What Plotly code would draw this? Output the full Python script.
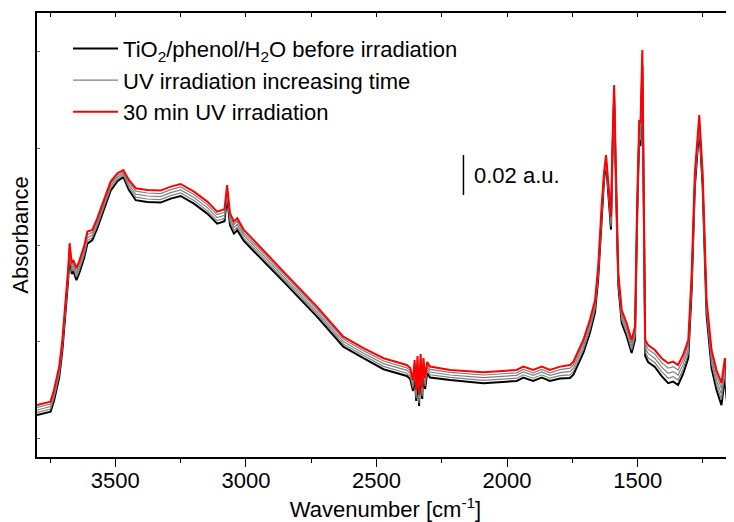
import plotly.graph_objects as go

# Wavenumbers (cm^-1) at which the curves were read
wavenumber = [3800, 3748, 3735, 3715, 3703, 3690, 3681, 3675, 3667, 3661, 3649, 3639, 3620, 3607,
              3588, 3569, 3543, 3518, 3492, 3469, 3448, 3422, 3378, 3327, 3288, 3250, 3199, 3148,
              3110, 3082, 3072, 3061, 3046, 3033, 3008, 2983, 2856, 2728, 2627, 2550, 2473, 2384,
              2371, 2360, 2354, 2348, 2343, 2337, 2331, 2325, 2320, 2314, 2306, 2295, 2218, 2091,
              1963, 1938, 1900, 1867, 1836, 1797, 1759, 1746, 1708, 1683, 1663, 1651, 1638, 1629,
              1621, 1613, 1602, 1596, 1590, 1583, 1574, 1561, 1542, 1523, 1510, 1502, 1494, 1489,
              1482, 1476, 1471, 1460, 1434, 1408, 1383, 1364, 1345, 1326, 1306, 1293, 1281, 1264,
              1251, 1236, 1217, 1198, 1179, 1166, 1157, 1134]

# TiO2/phenol/H2O before irradiation
abs_before = [0.0210, 0.0227, 0.0280, 0.0397, 0.0530, 0.0730, 0.0880, 0.1014, 0.0915, 0.0930, 0.0884,
              0.0917, 0.0992, 0.1067, 0.1085, 0.1144, 0.1235, 0.1332, 0.1379, 0.1400, 0.1335, 0.1284,
              0.1275, 0.1272, 0.1292, 0.1305, 0.1267, 0.1217, 0.1167, 0.1179, 0.1300, 0.1159, 0.1117,
              0.1134, 0.1080, 0.1047, 0.0877, 0.0702, 0.0552, 0.0494, 0.0439, 0.0405, 0.0390, 0.0330,
              0.0430, 0.0280, 0.0450, 0.0255, 0.0460, 0.0290, 0.0440, 0.0340, 0.0420, 0.0397, 0.0385,
              0.0369, 0.0380, 0.0397, 0.0380, 0.0397, 0.0380, 0.0392, 0.0395, 0.0412, 0.0520, 0.0620,
              0.0725, 0.0892, 0.1202, 0.1379, 0.1470, 0.1319, 0.1137, 0.1535, 0.1800, 0.1360, 0.0859,
              0.0670, 0.0604, 0.0520, 0.0587, 0.1187, 0.1605, 0.1554, 0.1955, 0.1182, 0.0505, 0.0475,
              0.0450, 0.0404, 0.0369, 0.0377, 0.0360, 0.0415, 0.0495, 0.0839, 0.1349, 0.1650, 0.1349,
              0.0710, 0.0445, 0.0335, 0.0259, 0.0394, 0.0264, 0.0217]

# UV irradiation, increasing time (three intermediate spectra)
abs_uv_a = [0.0223, 0.0240, 0.0294, 0.0411, 0.0544, 0.0744, 0.0894, 0.1028, 0.0929, 0.0944, 0.0899,
            0.0932, 0.1007, 0.1082, 0.1098, 0.1157, 0.1248, 0.1343, 0.1389, 0.1409, 0.1348, 0.1299,
            0.1290, 0.1287, 0.1307, 0.1320, 0.1282, 0.1232, 0.1182, 0.1194, 0.1315, 0.1174, 0.1132,
            0.1149, 0.1094, 0.1061, 0.0890, 0.0715, 0.0565, 0.0507, 0.0453, 0.0419, 0.0404, 0.0344,
            0.0444, 0.0294, 0.0464, 0.0269, 0.0474, 0.0304, 0.0454, 0.0354, 0.0434, 0.0411, 0.0398,
            0.0383, 0.0394, 0.0411, 0.0394, 0.0411, 0.0394, 0.0407, 0.0411, 0.0428, 0.0536, 0.0636,
            0.0740, 0.0907, 0.1215, 0.1389, 0.1480, 0.1332, 0.1153, 0.1548, 0.1815, 0.1375, 0.0874,
            0.0686, 0.0620, 0.0536, 0.0603, 0.1203, 0.1625, 0.1583, 0.1975, 0.1200, 0.0525, 0.0496,
            0.0471, 0.0427, 0.0394, 0.0402, 0.0385, 0.0439, 0.0518, 0.0859, 0.1367, 0.1665, 0.1367,
            0.0729, 0.0468, 0.0360, 0.0287, 0.0419, 0.0290, 0.0245]
abs_uv_b = [0.0235, 0.0252, 0.0308, 0.0425, 0.0558, 0.0758, 0.0908, 0.1042, 0.0943, 0.0958, 0.0914,
            0.0947, 0.1022, 0.1097, 0.1110, 0.1169, 0.1260, 0.1355, 0.1399, 0.1418, 0.1360, 0.1314,
            0.1305, 0.1302, 0.1322, 0.1335, 0.1297, 0.1247, 0.1197, 0.1209, 0.1330, 0.1189, 0.1147,
            0.1164, 0.1108, 0.1075, 0.0902, 0.0727, 0.0577, 0.0519, 0.0467, 0.0433, 0.0418, 0.0358,
            0.0458, 0.0308, 0.0478, 0.0283, 0.0488, 0.0318, 0.0468, 0.0368, 0.0448, 0.0425, 0.0410,
            0.0397, 0.0408, 0.0425, 0.0408, 0.0425, 0.0408, 0.0422, 0.0428, 0.0445, 0.0553, 0.0653,
            0.0755, 0.0922, 0.1227, 0.1399, 0.1490, 0.1344, 0.1170, 0.1560, 0.1830, 0.1390, 0.0889,
            0.0703, 0.0637, 0.0553, 0.0620, 0.1220, 0.1645, 0.1612, 0.1995, 0.1217, 0.0545, 0.0518,
            0.0493, 0.0449, 0.0419, 0.0427, 0.0410, 0.0463, 0.0540, 0.0879, 0.1384, 0.1680, 0.1384,
            0.0748, 0.0490, 0.0385, 0.0314, 0.0444, 0.0317, 0.0272]
abs_uv_c = [0.0248, 0.0265, 0.0321, 0.0438, 0.0571, 0.0771, 0.0921, 0.1055, 0.0956, 0.0971, 0.0929,
            0.0962, 0.1037, 0.1112, 0.1123, 0.1182, 0.1273, 0.1366, 0.1409, 0.1426, 0.1373, 0.1329,
            0.1320, 0.1317, 0.1337, 0.1350, 0.1312, 0.1262, 0.1212, 0.1224, 0.1345, 0.1204, 0.1162,
            0.1179, 0.1121, 0.1088, 0.0915, 0.0740, 0.0590, 0.0532, 0.0480, 0.0446, 0.0431, 0.0371,
            0.0471, 0.0321, 0.0491, 0.0296, 0.0501, 0.0331, 0.0481, 0.0381, 0.0461, 0.0438, 0.0423,
            0.0410, 0.0421, 0.0438, 0.0421, 0.0438, 0.0421, 0.0437, 0.0444, 0.0461, 0.0569, 0.0669,
            0.0770, 0.0937, 0.1240, 0.1409, 0.1500, 0.1357, 0.1186, 0.1573, 0.1845, 0.1405, 0.0904,
            0.0719, 0.0653, 0.0569, 0.0636, 0.1236, 0.1665, 0.1640, 0.2015, 0.1235, 0.0565, 0.0539,
            0.0514, 0.0472, 0.0444, 0.0452, 0.0435, 0.0486, 0.0563, 0.0899, 0.1402, 0.1695, 0.1402,
            0.0766, 0.0513, 0.0410, 0.0342, 0.0469, 0.0343, 0.0300]

# 30 min UV irradiation
abs_30min = [0.0260, 0.0277, 0.0335, 0.0452, 0.0585, 0.0785, 0.0935, 0.1069, 0.0970, 0.0985, 0.0944,
             0.0977, 0.1052, 0.1127, 0.1135, 0.1194, 0.1285, 0.1377, 0.1419, 0.1435, 0.1385, 0.1344,
             0.1335, 0.1332, 0.1352, 0.1365, 0.1327, 0.1277, 0.1227, 0.1239, 0.1360, 0.1219, 0.1177,
             0.1194, 0.1135, 0.1102, 0.0927, 0.0752, 0.0602, 0.0544, 0.0494, 0.0460, 0.0445, 0.0385,
             0.0485, 0.0335, 0.0505, 0.0310, 0.0515, 0.0345, 0.0495, 0.0395, 0.0475, 0.0452, 0.0435,
             0.0424, 0.0435, 0.0452, 0.0435, 0.0452, 0.0435, 0.0452, 0.0460, 0.0477, 0.0585, 0.0685,
             0.0785, 0.0952, 0.1252, 0.1419, 0.1510, 0.1369, 0.1202, 0.1585, 0.1860, 0.1420, 0.0919,
             0.0735, 0.0669, 0.0585, 0.0652, 0.1252, 0.1685, 0.1669, 0.2035, 0.1252, 0.0585, 0.0560,
             0.0535, 0.0494, 0.0469, 0.0477, 0.0460, 0.0510, 0.0585, 0.0919, 0.1419, 0.1710, 0.1419,
             0.0785, 0.0535, 0.0435, 0.0369, 0.0494, 0.0369, 0.0327]

# scale bar (0.02 a.u.)
scalebar_x = [2167, 2167]
scalebar_y = [0.131, 0.151]
scalebar_label = "0.02 a.u."

FONT = "Liberation Sans, Arial, sans-serif"
FS = 22

fig = go.Figure()
fig.add_trace(go.Scatter(x=wavenumber, y=abs_before, mode="lines",
                         line=dict(color="#000000", width=2),
                         name="TiO<sub>2</sub>/phenol/H<sub>2</sub>O before irradiation"))
for i, series in enumerate([abs_uv_a, abs_uv_b, abs_uv_c]):
    fig.add_trace(go.Scatter(x=wavenumber, y=series, mode="lines",
                             line=dict(color="#808080", width=1.2),
                             name="UV irradiation increasing time",
                             showlegend=(i == 0)))
fig.add_trace(go.Scatter(x=wavenumber, y=abs_30min, mode="lines",
                         line=dict(color="#ff0000", width=2),
                         name="30 min UV irradiation"))

# scale bar
fig.add_trace(go.Scatter(x=scalebar_x, y=scalebar_y, mode="lines",
                         line=dict(color="#000000", width=1.5), showlegend=False,
                         hoverinfo="skip"))
fig.add_annotation(x=2135, y=sum(scalebar_y) / 2, text=scalebar_label, showarrow=False,
                   xanchor="left", yanchor="middle", font=dict(size=FS, color="#000000", family=FONT))

# top axis with inward ticks
fig.add_trace(go.Scatter(x=[3800], y=[None], xaxis="x2", showlegend=False, hoverinfo="skip"))

x_range = [3800, 1131]
# the page body adds an 8 px offset; the figure is sized so it ends at the window edge
fig.update_layout(
    width=726, height=514,
    margin=dict(l=29, r=0, t=5, b=65),
    paper_bgcolor="white", plot_bgcolor="white",
    font=dict(family=FONT, size=FS, color="#000000"),
    showlegend=True,
    legend=dict(x=0.0445, y=0.967, xanchor="left", yanchor="top",
                bgcolor="rgba(0,0,0,0)", font=dict(size=FS, family=FONT),
                tracegroupgap=0, itemwidth=45),
    xaxis=dict(range=x_range, showgrid=False, zeroline=False, automargin=False,
               showline=True, linecolor="#000000", linewidth=1.5,
               ticks="outside", ticklen=8, tickwidth=1.3, tickcolor="#000000",
               dtick=500, tick0=0, ticklabelstandoff=-5,
               minor=dict(dtick=250, ticks="outside", ticklen=4, tickwidth=1.3, tickcolor="#000000"),
               tickfont=dict(size=FS, family=FONT),
               title=dict(text="Wavenumber [cm<sup>-1</sup>]", font=dict(size=FS, family=FONT), standoff=10)),
    xaxis2=dict(range=x_range, overlaying="x", side="top", showgrid=False, zeroline=False,
                showline=True, linecolor="#000000", linewidth=1.5, automargin=False,
                ticks="inside", ticklen=4, tickwidth=1, tickcolor="#000000",
                dtick=250, tick0=0, showticklabels=False),
    yaxis=dict(range=[0, 0.222], showgrid=False, zeroline=False, automargin=False,
               showline=True, linecolor="#000000", linewidth=1.5,
               ticks="inside", ticklen=3, tickwidth=1, tickcolor="#666666",
               tickvals=[0.0093, 0.0577, 0.1060, 0.1543, 0.2027], showticklabels=False,
               title=dict(text="Absorbance", font=dict(size=FS, family=FONT), standoff=4)),
)

fig.write_html("out.html")
